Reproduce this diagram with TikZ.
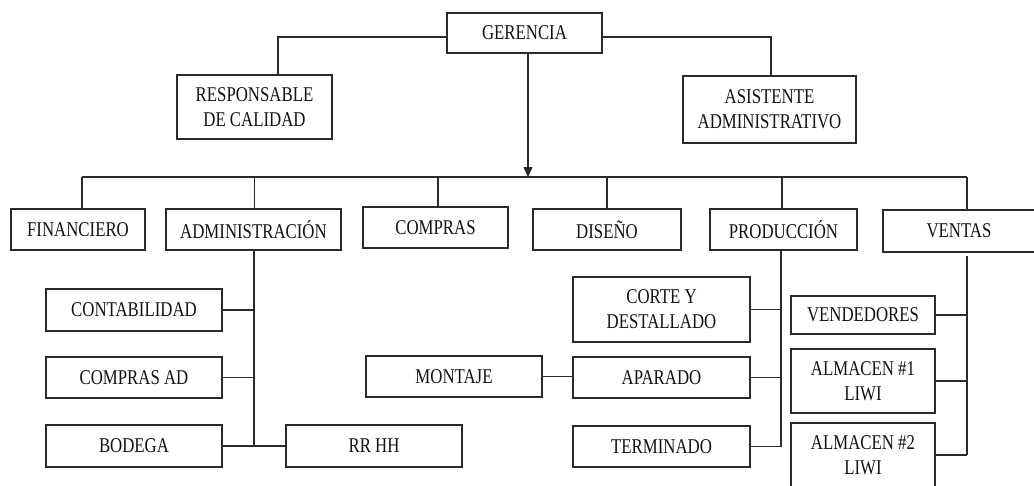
\documentclass[tikz,border=0pt]{standalone}
\usepackage{fontspec}
\setmainfont{Liberation Serif}[FakeStretch=0.8]
\usetikzlibrary{arrows.meta}
\definecolor{ink}{HTML}{111111}
\definecolor{edge}{HTML}{2A2A2A}
\tikzset{
  box/.style={draw=edge, line width=1.4pt, inner sep=0pt, align=center,
    text=ink, font=\fontsize{21}{25}\selectfont},
  conn/.style={draw=edge, line width=1.4pt}
}
\newcommand{\bx}[6]{\node[box, minimum width=#4pt, minimum height=#5pt] (#1) at (#2,#3) {#6};}
\begin{document}
\begin{tikzpicture}[x=1pt,y=-1pt]
\useasboundingbox (0,0) rectangle (1034,485);
\bx{ger}{524.5}{33}{155}{40}{GERENCIA}
\bx{resp}{254.5}{107}{155}{64}{RESPONSABLE\\DE CALIDAD}
\bx{asis}{769.5}{109.5}{173}{67}{ASISTENTE\\ADMINISTRATIVO}
\bx{fin}{78}{229.5}{134}{41}{FINANCIERO}
\bx{adm}{253.5}{229.5}{175}{41}{ADMINISTRACIÓN}
\bx{comp}{435.5}{227.5}{145}{41}{COMPRAS}
\bx{dis}{607}{229.5}{148}{41}{DISEÑO}
\bx{prod}{783.5}{229.5}{147}{41}{PRODUCCIÓN}
\bx{ven}{959}{231}{152}{42}{VENTAS}
\bx{cont}{134}{310}{176}{42}{CONTABILIDAD}
\bx{cad}{134}{377.5}{176}{41}{COMPRAS AD}
\bx{bod}{134}{446}{176}{42}{BODEGA}
\bx{rrhh}{374}{446}{176}{42}{RR HH}
\bx{mont}{454}{376.5}{176}{41}{MONTAJE}
\bx{corte}{661.5}{309.5}{177}{65}{CORTE Y\\DESTALLADO}
\bx{apar}{661.5}{377.5}{177}{41}{APARADO}
\bx{term}{661.5}{446.5}{177}{41}{TERMINADO}
\bx{vend}{863}{315}{144}{38}{VENDEDORES}
\bx{alm1}{863}{381}{144}{64}{ALMACEN \#1\\LIWI}
\bx{alm2}{863}{455}{144}{64}{ALMACEN \#2\\LIWI}
% top connectors
\draw[conn] ([yshift=-4pt]ger.west) -| ([xshift=23.5pt]resp.north);
\draw[conn] ([yshift=-4pt]ger.east) -| ([xshift=1.5pt]asis.north);
\coordinate (busL) at (82,177);
\coordinate (busR) at (967,177);
\coordinate (busM) at (528,177);
\draw[conn, -{Triangle[length=10pt,width=9pt]}] ([xshift=3.5pt]ger.south) -- (busM);
\draw[conn] (busL) -- (busR);
\draw[conn] (busL) -- (busL |- fin.north);
\draw[conn] ([xshift=1pt]adm.north |- busL) -- ([xshift=1pt]adm.north);
\draw[conn] ([xshift=2.5pt]comp.north |- busL) -- ([xshift=2.5pt]comp.north);
\draw[conn] (dis.north |- busL) -- (dis.north);
\draw[conn] ([xshift=-1.5pt]prod.north |- busL) -- ([xshift=-1.5pt]prod.north);
\draw[conn] (busR) -- (busR |- ven.north);
% administracion
\coordinate (admx) at ([xshift=0.5pt]adm.south);
\draw[conn] (admx) -- (admx |- bod.east);
\draw[conn] (cont.east) -- (cont.east -| admx);
\draw[conn] (cad.east) -- (cad.east -| admx);
\draw[conn] (bod.east) -- (rrhh.west);
% produccion
\coordinate (prodx) at ([xshift=-2.5pt]prod.south);
\draw[conn] (prodx) -- (prodx |- term.east);
\draw[conn] (corte.east) -- (corte.east -| prodx);
\draw[conn] (apar.east) -- (apar.east -| prodx);
\draw[conn] (term.east) -- (term.east -| prodx);
\draw[conn] (mont.east) -- (mont.east -| apar.west);
% ventas
\draw[conn] ([yshift=-3pt]ven.south -| busR) -- (busR |- alm2.east);
\draw[conn] (vend.east) -- (vend.east -| busR);
\draw[conn] (alm1.east) -- (alm1.east -| busR);
\draw[conn] (alm2.east) -- (alm2.east -| busR);
\end{tikzpicture}
\end{document}
